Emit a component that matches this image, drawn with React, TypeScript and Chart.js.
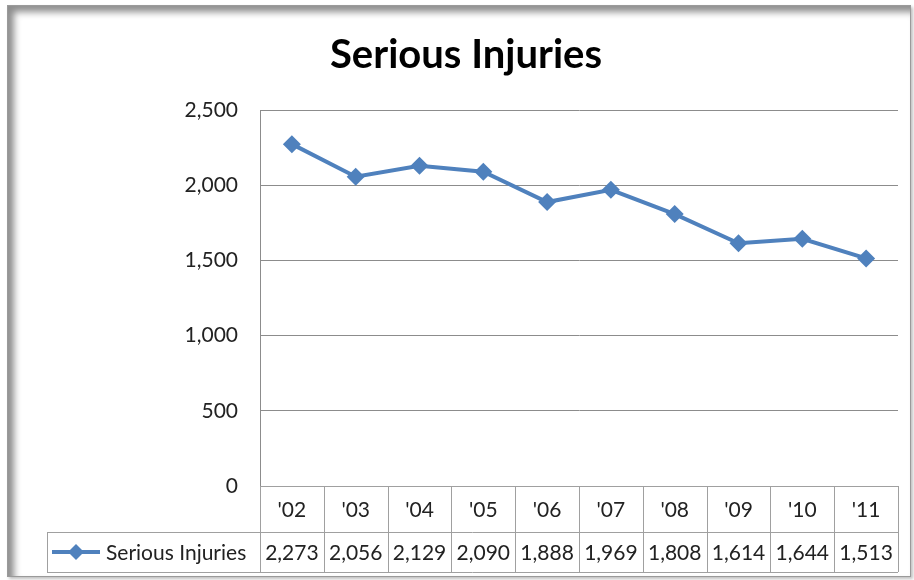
import React, { useEffect, useRef } from "react";
import { Chart, registerables } from "chart.js";

Chart.register(...registerables);

const categories = ["'02", "'03", "'04", "'05", "'06", "'07", "'08", "'09", "'10", "'11"];
const seriesName = "Serious Injuries";
const seriesValues = [2273, 2056, 2129, 2090, 1888, 1969, 1808, 1614, 1644, 1513];
const yTicks = [0, 500, 1000, 1500, 2000, 2500];

const LINE_COLOR = "#4F81BD";
const FONT = "Lato, 'Open Sans', sans-serif";
const fmt = (v: number) => v.toLocaleString("en-US");

const tablePlugin = {
  id: "dataTable",
  afterDraw(chart: any) {
    const ctx = chart.ctx;
    const area = chart.chartArea;
    const xs = chart.scales.x;
    const n = categories.length;
    const colW = (area.right - area.left) / n;
    const top = area.bottom;
    const headerBottom = top + 46;
    const bottom = top + 86;
    const legendLeft = 47;
    ctx.save();
    ctx.strokeStyle = "#a0a0a0";
    ctx.lineWidth = 1;
    ctx.beginPath();
    ctx.moveTo(area.left, top + 0.5);
    ctx.lineTo(area.right, top + 0.5);
    ctx.moveTo(legendLeft, headerBottom + 0.5);
    ctx.lineTo(area.right, headerBottom + 0.5);
    ctx.moveTo(legendLeft, bottom + 0.5);
    ctx.lineTo(area.right, bottom + 0.5);
    for (let i = 0; i <= n; i++) {
      const xx = i === n ? Math.round(area.right) + 0.5 : Math.round(xs.getPixelForValue(i) - colW / 2) + 0.5;
      ctx.moveTo(xx, top);
      ctx.lineTo(xx, bottom);
    }
    ctx.moveTo(legendLeft + 0.5, headerBottom);
    ctx.lineTo(legendLeft + 0.5, bottom);
    ctx.stroke();

    ctx.fillStyle = "#222";
    ctx.font = `21px ${FONT}`;
    ctx.textAlign = "center";
    ctx.textBaseline = "middle";
    for (let i = 0; i < n; i++) {
      const cx = xs.getPixelForValue(i);
      ctx.fillText(categories[i], cx, (top + headerBottom) / 2 + 1);
      ctx.fillText(fmt(seriesValues[i]), cx, (headerBottom + bottom) / 2 + 1);
    }
    const ly = (headerBottom + bottom) / 2;
    ctx.strokeStyle = LINE_COLOR;
    ctx.lineWidth = 4;
    ctx.beginPath();
    ctx.moveTo(52, ly);
    ctx.lineTo(100, ly);
    ctx.stroke();
    ctx.fillStyle = LINE_COLOR;
    ctx.beginPath();
    ctx.moveTo(76, ly - 8);
    ctx.lineTo(84, ly);
    ctx.lineTo(76, ly + 8);
    ctx.lineTo(68, ly);
    ctx.closePath();
    ctx.fill();
    ctx.fillStyle = "#222";
    ctx.textAlign = "left";
    ctx.fillText(seriesName, 106, ly + 1);
    ctx.restore();
  },
};

export default function App() {
  const ref = useRef<HTMLCanvasElement>(null);
  useEffect(() => {
    if (!ref.current) return;
    const chart = new Chart(ref.current, {
      type: "line",
      data: {
        labels: categories,
        datasets: [
          {
            label: seriesName,
            data: seriesValues,
            borderColor: LINE_COLOR,
            backgroundColor: LINE_COLOR,
            borderWidth: 4,
            pointStyle: "rectRot",
            pointRadius: 9,
            pointBorderWidth: 0,
            tension: 0,
          },
        ],
      },
      options: {
        animation: false,
        responsive: false,
        devicePixelRatio: 1,
        layout: { padding: { left: 34, right: 16, top: 0, bottom: 94 } },
        plugins: {
          legend: { display: false },
          tooltip: { enabled: false },
          title: {
            display: true,
            text: "Serious Injuries",
            color: "#000",
            font: { family: FONT, size: 40, weight: "bold" },
            padding: { top: 31, bottom: 31 },
          },
        },
        scales: {
          x: {
            type: "category",
            offset: true,
            display: false,
          },
          y: {
            min: 0,
            max: 2500,
            afterBuildTicks: (s: any) => {
              s.ticks = yTicks.map((v) => ({ value: v }));
            },
            afterFit: (s: any) => {
              s.width = 226;
            },
            ticks: {
              color: "#222",
              font: { family: FONT, size: 21 },
              padding: 22,
              callback: (v: any) => fmt(Number(v)),
            },
            grid: { color: "#8c8c8c", drawTicks: false, lineWidth: 1 },
            border: { display: true, color: "#8c8c8c" },
          },
        },
      },
      plugins: [tablePlugin],
    });
    return () => chart.destroy();
  }, []);
  return (
    <div style={{ position: "fixed", left: 0, top: 0, width: 914, height: 580, background: "#fff" }}>
      <canvas ref={ref} width={914} height={580} style={{ position: "absolute", left: 0, top: 0 }} />
      <div
        style={{
          position: "absolute",
          left: 7,
          top: 5,
          width: 902,
          height: 570,
          border: "1px solid #9a9a9a",
          boxShadow: "inset 6px 6px 7px rgba(0,0,0,0.45), 2px 2px 3px rgba(0,0,0,0.25)",
          pointerEvents: "none",
        }}
      />
    </div>
  );
}
